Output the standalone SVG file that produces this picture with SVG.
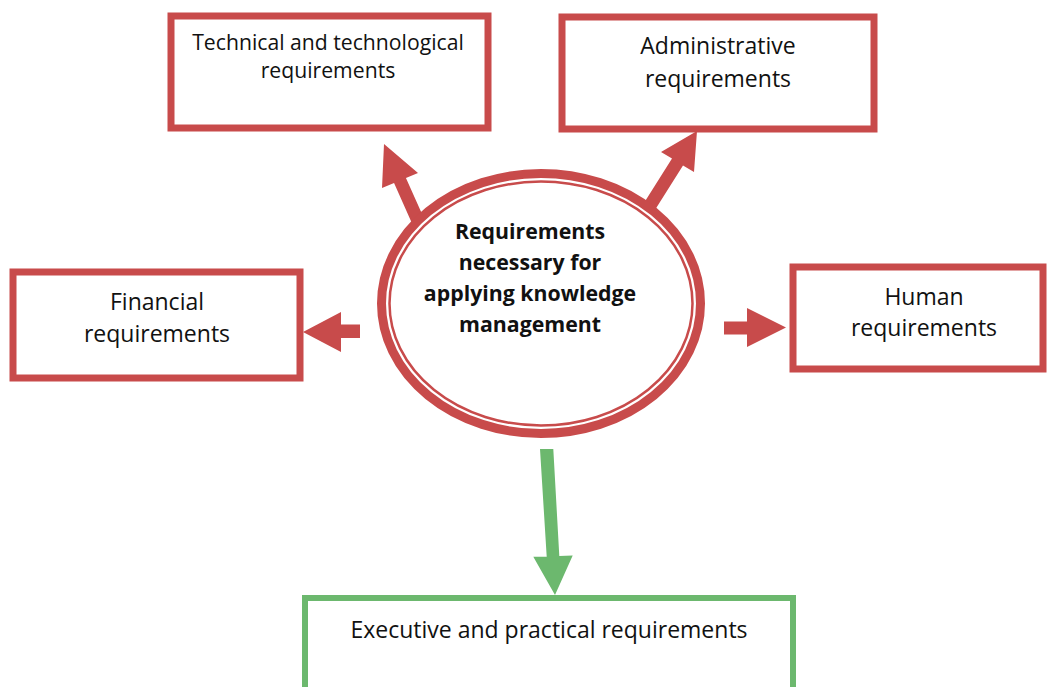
<svg xmlns="http://www.w3.org/2000/svg" width="1047" height="687" viewBox="0 0 1047 687">
<style>
.box{fill:#fff;stroke:#C84B4B;stroke-width:7}
.gbox{fill:#fff;stroke:#6CB86E;stroke-width:6}
.t{font-family:"Open Sans","Liberation Sans",sans-serif;font-size:23px;fill:#111;text-anchor:middle}
.tb{font-family:"Open Sans","Liberation Sans",sans-serif;font-size:21.3px;font-weight:bold;fill:#111;text-anchor:middle}
.ar{fill:#C84B4B}
.ag{fill:#6CB86E}
</style>
<rect width="1047" height="687" fill="#fff"/>
<g id="connectors">
<polygon class="ar" points="384,144 418,173 405.95,177.9 426.5,224 414.6,229.2 394.05,183.1 382,188"/>
<polygon class="ar" points="697,131 694,172 683,165.5 651,216.3 640,209.3 672,158.5 661,152"/>
<polygon class="ar" points="303,332 341,312 341,324.5 360,324.5 360,338 341,338 341,352"/>
<polygon class="ar" points="786,327.5 747,347 747,334.5 724,334.5 724,321.5 747,321.5 747,308"/>
<polygon class="ag" points="540,449 553.3,449 559.3,556 572.7,555.5 555,595 533.3,556.7 546.7,556.7"/>
</g>
<g id="center">
<ellipse cx="541" cy="303.5" rx="159.5" ry="130" fill="#fff" stroke="#C84B4B" stroke-width="9"/>
<ellipse cx="541" cy="303.5" rx="151.5" ry="122" fill="none" stroke="#C84B4B" stroke-width="2.5"/>
<text class="tb" x="530" y="239">Requirements</text>
<text class="tb" x="530" y="270">necessary for</text>
<text class="tb" x="530" y="301">applying knowledge</text>
<text class="tb" x="530" y="332">management</text>
</g>
<g id="technical">
<rect class="box" x="171" y="16" width="317" height="112"/>
<text class="t" x="328" y="50" style="font-size:21.2px">Technical and technological</text>
<text class="t" x="328" y="78" style="font-size:21.2px">requirements</text>
</g>
<g id="administrative">
<rect class="box" x="562" y="17" width="312" height="112"/>
<text class="t" x="718" y="54">Administrative</text>
<text class="t" x="718" y="87">requirements</text>
</g>
<g id="financial">
<rect class="box" x="13" y="272" width="287" height="106"/>
<text class="t" x="157" y="310">Financial</text>
<text class="t" x="157" y="342">requirements</text>
</g>
<g id="human">
<rect class="box" x="793" y="267" width="250" height="102"/>
<text class="t" x="924" y="305">Human</text>
<text class="t" x="924" y="336">requirements</text>
</g>
<g id="executive">
<rect class="gbox" x="305" y="598" width="488" height="100"/>
<text class="t" x="549" y="638">Executive and practical requirements</text>
</g>
</svg>
